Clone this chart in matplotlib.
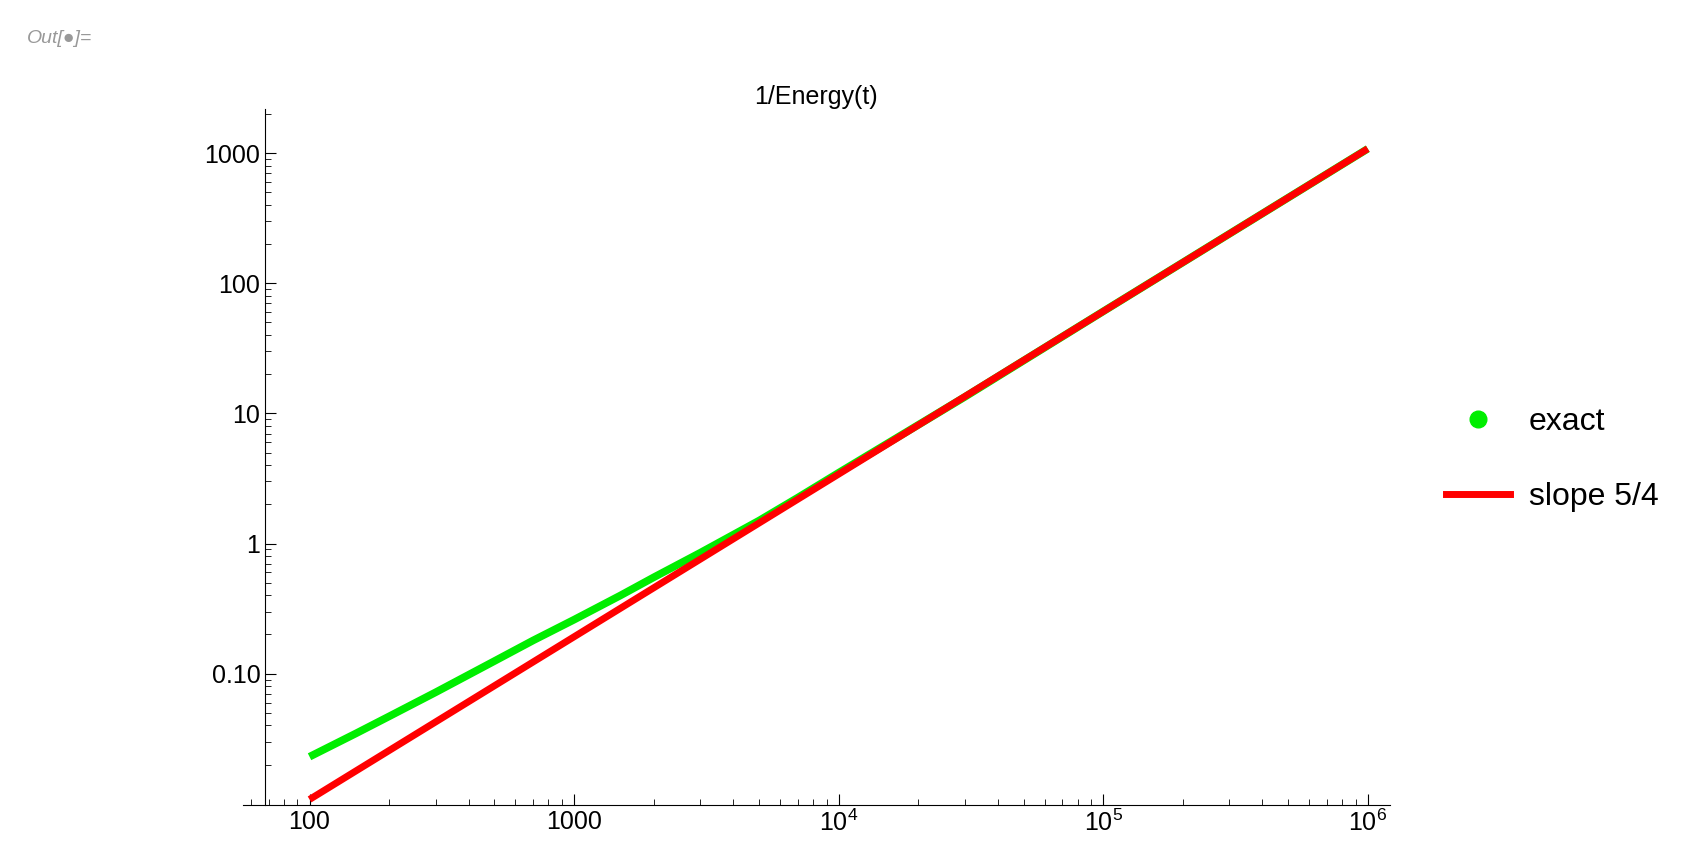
import matplotlib
matplotlib.use("Agg")
import matplotlib.pyplot as plt
from matplotlib.lines import Line2D
from matplotlib.ticker import LogLocator, NullFormatter

t_exact = [100, 150, 200, 300, 500, 700, 1000, 1500, 2000, 3000, 5000, 7000,
           1e4, 3e4, 1e5, 3e5, 1e6]
e_exact = [0.023, 0.0348, 0.047, 0.072, 0.125, 0.18, 0.26, 0.40, 0.55, 0.85,
           1.5, 2.25, 3.5, 13.4, 60.8, 240, 1081]
t_fit = [100, 1e6]
e_fit = [0.0108, 1081]
xticks = [100, 1000, 1e4, 1e5, 1e6]
xlabels = ["100", "1000", "$10^4$", "$10^5$", "$10^6$"]
yticks = [0.1, 1, 10, 100, 1000]
ylabels = ["0.10", "1", "10", "100", "1000"]

W, H = 1560, 790
plt.rcParams['font.family'] = ['Liberation Sans', 'DejaVu Sans']
plt.rcParams['mathtext.fontset'] = 'custom'
plt.rcParams['mathtext.rm'] = 'Liberation Sans'
plt.rcParams['mathtext.it'] = 'Liberation Sans'
fig = plt.figure(figsize=(17.07, 8.64), dpi=100)
ax = fig.add_axes([222/W, 1-736/H, (1270-222)/W, (736-100)/H])
ax.set_xscale('log'); ax.set_yscale('log')
ax.plot(t_exact, e_exact, color='#00ee00', lw=5.5, solid_capstyle='butt')
ax.plot(t_fit, e_fit, color='#ff0000', lw=5, solid_capstyle='butt')
ax.set_xlim(56, 1.21e6); ax.set_ylim(0.0098, 2170)
ax.spines['top'].set_visible(False); ax.spines['right'].set_visible(False)
ax.spines['left'].set_position(('data', 68))
ax.set_xticks(xticks); ax.set_xticklabels(xlabels)
ax.set_yticks(yticks); ax.set_yticklabels(ylabels)
ax.xaxis.set_minor_locator(LogLocator(subs=range(2, 10)))
ax.yaxis.set_minor_locator(LogLocator(subs=range(2, 10)))
ax.xaxis.set_minor_formatter(NullFormatter()); ax.yaxis.set_minor_formatter(NullFormatter())
ax.tick_params(which='major', length=8, labelsize=18, direction='in')
ax.tick_params(which='minor', length=4, direction='in')
ax.set_title("1/Energy(t)", fontsize=18, pad=4)
handles = [Line2D([], [], color='#00ee00', marker='o', ls='', markersize=12),
           Line2D([], [], color='#ff0000', lw=5)]
fig.legend(handles, ["exact", "slope 5/4"], loc='center left',
           bbox_to_anchor=(1295/W, 1-420/H), frameon=False, fontsize=23,
           labelspacing=1.4, handlelength=2, handletextpad=0.6)
fig.text(25/W, 1-35/H, "Out[●]=", color='#999999', fontsize=14,
         style='italic', va='center')
fig.savefig("out.png", dpi=100)
